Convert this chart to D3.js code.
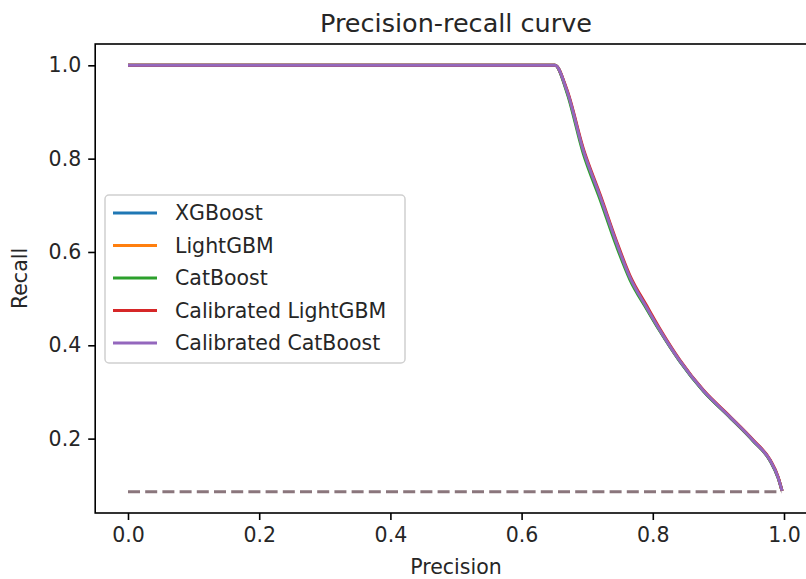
<!DOCTYPE html>
<html>
<head>
<meta charset="utf-8">
<script src="https://cdn.jsdelivr.net/npm/d3@7"></script>
<style>
  body { margin: 0; background: #fff; }
  svg { display: block; font-family: 'DejaVu Sans', sans-serif; }
</style>
</head>
<body>
<svg id="chart" width="806" height="579"></svg>
<script>
// precision values along the curves (x axis)
const precision = [0.0, 0.651, 0.669, 0.694, 0.72, 0.745, 0.765, 0.791, 0.811, 0.841, 0.877, 0.918, 0.953, 0.979, 0.991, 0.997];

// recall values per model (y axis)
const recallXGBoost = [1.0, 1.0, 0.945, 0.817, 0.717, 0.617, 0.545, 0.479, 0.431, 0.366, 0.302, 0.245, 0.195, 0.152, 0.116, 0.088];
const recallLightGBM = [1.0, 1.0, 0.946, 0.818, 0.718, 0.618, 0.546, 0.48, 0.432, 0.367, 0.303, 0.246, 0.196, 0.153, 0.117, 0.088];
const recallCatBoost = [1.0, 1.0, 0.942, 0.811, 0.711, 0.611, 0.541, 0.477, 0.43, 0.366, 0.302, 0.245, 0.195, 0.152, 0.116, 0.088];
const recallCalLightGBM = [1.0, 1.0, 0.948, 0.822, 0.722, 0.622, 0.55, 0.484, 0.435, 0.369, 0.304, 0.247, 0.197, 0.154, 0.118, 0.088];
const recallCalCatBoost = [1.0, 1.0, 0.946, 0.818, 0.718, 0.618, 0.546, 0.48, 0.432, 0.367, 0.303, 0.246, 0.196, 0.153, 0.117, 0.088];

const seriesNames = ['XGBoost', 'LightGBM', 'CatBoost', 'Calibrated LightGBM', 'Calibrated CatBoost'];
const seriesColors = ['#1f77b4', '#ff7f0e', '#2ca02c', '#d62728', '#9467bd'];

// no-skill baseline
const baselinePrecision = [0.0, 0.997];
const baselineRecall = [0.0863, 0.0863];

const xTicks = [0.0, 0.2, 0.4, 0.6, 0.8, 1.0];
const yTicks = [0.2, 0.4, 0.6, 0.8, 1.0];

const svg = d3.select('#chart');
const margin = { left: 95.2, right: 816.8, top: 44, bottom: 513 };

const x = d3.scaleLinear().domain([-0.05, 1.05]).range([margin.left, margin.right]);
const y = d3.scaleLinear().domain([0.0406, 1.0457]).range([margin.bottom, margin.top]);

const line = d3.line()
    .x(d => x(d[0]))
    .y(d => y(d[1]))
    .curve(d3.curveMonotoneX);

const recalls = [recallXGBoost, recallLightGBM, recallCatBoost, recallCalLightGBM, recallCalCatBoost];

const view = svg.append('g');

// curves
recalls.forEach((r, i) => {
    view.append('path')
        .datum(precision.map((p, j) => [p, r[j]]))
        .attr('d', line)
        .attr('fill', 'none')
        .attr('stroke', seriesColors[i])
        .attr('stroke-width', 3)
        .attr('stroke-linejoin', 'round');
});

view.append('path')
    .datum(baselinePrecision.map((p, j) => [p, baselineRecall[j]]))
    .attr('d', d3.line().x(d => x(d[0])).y(d => y(d[1])))
    .attr('fill', 'none')
    .attr('stroke', '#8a767c')
    .attr('stroke-width', 3)
    .attr('stroke-dasharray', '12,5.2');

// axes
const xAxis = d3.axisBottom(x).tickValues(xTicks).tickFormat(d3.format('.1f')).tickSize(7).tickPadding(7);
const yAxis = d3.axisLeft(y).tickValues(yTicks).tickFormat(d3.format('.1f')).tickSize(7).tickPadding(7);

const gx = svg.append('g').attr('transform', `translate(0, ${margin.bottom})`).call(xAxis);
const gy = svg.append('g').attr('transform', `translate(${margin.left}, 0)`).call(yAxis);
[gx, gy].forEach(g => {
    g.select('.domain').remove();
    g.selectAll('.tick line').attr('stroke', '#000').attr('stroke-width', 1.6);
    g.selectAll('.tick text')
        .attr('fill', '#262626')
        .style('font-family', "'DejaVu Sans', sans-serif")
        .style('font-size', '20.5px');
});

// frame
svg.append('rect')
    .attr('x', margin.left).attr('y', margin.top)
    .attr('width', margin.right - margin.left).attr('height', margin.bottom - margin.top)
    .attr('fill', 'none')
    .attr('stroke', '#000')
    .attr('stroke-width', 1.6);

// titles
svg.append('text')
    .attr('x', (margin.left + margin.right) / 2).attr('y', 32)
    .attr('text-anchor', 'middle')
    .style('font-size', '25.5px')
    .attr('fill', '#262626')
    .text('Precision-recall curve');

svg.append('text')
    .attr('x', (margin.left + margin.right) / 2).attr('y', 574)
    .attr('text-anchor', 'middle')
    .style('font-size', '20.5px')
    .attr('fill', '#262626')
    .text('Precision');

svg.append('text')
    .attr('transform', `translate(27, ${(margin.top + margin.bottom) / 2}) rotate(-90)`)
    .attr('text-anchor', 'middle')
    .style('font-size', '20.5px')
    .attr('fill', '#262626')
    .text('Recall');

// legend
const legend = svg.append('g').attr('transform', 'translate(105, 195)');
legend.append('rect')
    .attr('width', 300).attr('height', 168)
    .attr('rx', 4)
    .attr('fill', 'rgba(255,255,255,0.8)')
    .attr('stroke', '#d0d0d0')
    .attr('stroke-width', 1.5);

const items = legend.selectAll('g.item').data(seriesNames).enter().append('g')
    .attr('class', 'item')
    .attr('transform', (d, i) => `translate(0, ${18 + i * 32.5})`);
items.append('line')
    .attr('x1', 8).attr('x2', 52)
    .attr('stroke', (d, i) => seriesColors[i])
    .attr('stroke-width', 3);
items.append('text')
    .attr('x', 70).attr('dy', '0.35em')
    .style('font-size', '20.5px')
    .attr('fill', '#262626')
    .text(d => d);
</script>
</body>
</html>
